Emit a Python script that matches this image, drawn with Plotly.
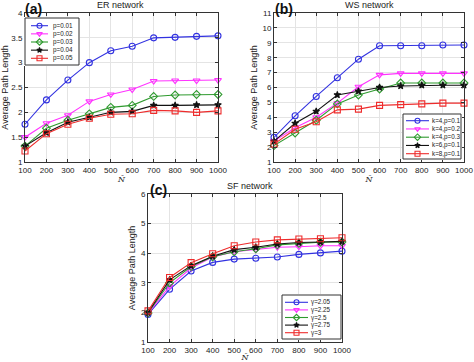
import plotly.graph_objects as go

N = [100, 200, 300, 400, 500, 600, 700, 800, 900, 1000]
N_ticks = ["100", "200", "300", "400", "500", "600", "700", "800", "900", "1000"]

# ER network
er_names = ["p=0.01", "p=0.02", "p=0.03", "p=0.04", "p=0.05"]
er_p001 = [1.76, 2.25, 2.65, 3.00, 3.24, 3.33, 3.50, 3.51, 3.53, 3.54]
er_p002 = [1.50, 1.78, 1.94, 2.22, 2.36, 2.46, 2.63, 2.64, 2.64, 2.65]
er_p003 = [1.32, 1.68, 1.84, 1.97, 2.10, 2.14, 2.32, 2.35, 2.36, 2.36]
er_p004 = [1.32, 1.59, 1.80, 1.90, 2.00, 2.02, 2.14, 2.14, 2.15, 2.15]
er_p005 = [1.22, 1.57, 1.76, 1.88, 1.96, 1.97, 2.04, 2.03, 2.00, 2.03]

# WS network
ws_names = ["k=4,p=0.1", "k=4,p=0.2", "k=4,p=0.3", "k=6,p=0.1", "k=8,p=0.1"]
ws_k4p01 = [2.65, 4.10, 5.40, 6.65, 7.90, 8.80, 8.80, 8.80, 8.85, 8.85]
ws_k4p02 = [2.40, 3.30, 4.00, 4.95, 6.05, 6.85, 6.95, 6.95, 6.95, 6.95]
ws_k4p03 = [2.10, 2.95, 3.80, 4.90, 5.50, 5.90, 6.30, 6.30, 6.30, 6.30]
ws_k6p01 = [2.40, 3.60, 4.40, 5.50, 5.75, 6.00, 6.10, 6.15, 6.15, 6.15]
ws_k8p01 = [2.20, 3.20, 3.70, 4.50, 4.55, 4.80, 4.85, 4.90, 4.95, 4.95]

# SF network
sf_names = ["γ=2.05", "γ=2.25", "γ=2.5", "γ=2.75", "γ=3"]
sf_g205 = [1.93, 2.78, 3.40, 3.69, 3.80, 3.83, 3.87, 3.96, 4.01, 4.07]
sf_g225 = [1.97, 2.88, 3.50, 3.87, 4.05, 4.12, 4.20, 4.22, 4.25, 4.25]
sf_g250 = [1.98, 3.00, 3.55, 3.88, 4.05, 4.15, 4.28, 4.33, 4.37, 4.38]
sf_g275 = [2.00, 3.10, 3.58, 3.90, 4.12, 4.20, 4.31, 4.36, 4.38, 4.40]
sf_g300 = [2.05, 3.18, 3.68, 3.98, 4.25, 4.38, 4.45, 4.48, 4.49, 4.52]

colors = ["#3232e0", "#ff33ff", "#2f9a2f", "#111111", "#ee2c2c"]
symbols = ["circle-open", "triangle-down-open", "diamond-open", "star", "square-open"]
msizes = [6, 6, 6, 5, 6]

W, H = 474, 362
def xd(a, b):
    return [a / W, b / W]
def yd(top, bot):
    return [1 - bot / H, 1 - top / H]

FONT = "Liberation Sans"
TXT = "#222"

fig = go.Figure()
panels = [
    ("x", "y", er_names, [er_p001, er_p002, er_p003, er_p004, er_p005]),
    ("x2", "y2", ws_names, [ws_k4p01, ws_k4p02, ws_k4p03, ws_k6p01, ws_k8p01]),
    ("x3", "y3", sf_names, [sf_g205, sf_g225, sf_g250, sf_g275, sf_g300]),
]
for xa, ya, names, series in panels:
    for i, (nm, vals) in enumerate(zip(names, series)):
        fig.add_trace(go.Scatter(
            x=N, y=vals, name=nm, mode="lines+markers", xaxis=xa, yaxis=ya, showlegend=False,
            line=dict(color=colors[i], width=1.1),
            marker=dict(symbol=symbols[i], size=msizes[i], color=colors[i],
                        line=dict(color=colors[i], width=1.1)),
            cliponaxis=False,
        ))

axis_common = dict(showline=True, linecolor="#333", linewidth=1, mirror="ticks",
                   ticks="inside", ticklen=3, tickcolor="#333", automargin=False,
                   showgrid=True, gridcolor="#e4e4e4", gridwidth=1, zeroline=False,
                   tickfont=dict(size=8, color=TXT, family=FONT))
xax = dict(axis_common, range=[100, 1000], tickvals=N, ticktext=N_ticks, ticklabeloverflow="allow")

yt_title = dict(text="Average Path Length", font=dict(size=9, color=TXT, family=FONT), standoff=3)
xt_title = dict(text="<i>Ñ</i>", font=dict(size=8, color=TXT, family="DejaVu Serif"), standoff=0)

layout = dict(
    width=W, height=H, margin=dict(l=0, r=0, t=0, b=0, autoexpand=False),
    paper_bgcolor="white", plot_bgcolor="white", showlegend=False,
    xaxis=dict(xax, domain=xd(25, 218), anchor="y", title=xt_title),
    yaxis=dict(axis_common, domain=yd(13, 162), anchor="x", range=[1, 4], dtick=0.5, title=yt_title),
    xaxis2=dict(xax, domain=xd(274, 464), anchor="y2", title=xt_title),
    yaxis2=dict(axis_common, domain=yd(13, 162), anchor="x2", range=[1, 11], dtick=1, title=yt_title),
    xaxis3=dict(xax, domain=xd(148, 342), anchor="y3", title=xt_title),
    yaxis3=dict(axis_common, domain=yd(194, 342), anchor="x3", range=[1, 6], dtick=1, title=yt_title),
)

# Compact MATLAB-style legends drawn in their own small axes (pixel coordinates)
legend_boxes = [
    # (left, right, top, bottom, first_row, step, line_x0, line_x1, text_x)
    (25, 79, 18, 65, 25.7, 8.15, 31, 48, 51.5),
    (403, 461, 114, 159, 120.7, 8.25, 406, 429, 430.5),
    (282, 341, 295, 339, 302.3, 7.6, 285, 308, 309.5),
]
all_names = [er_names, ws_names, sf_names]
for k, (L, R, T, B, r0, st, lx0, lx1, tx) in enumerate(legend_boxes):
    n = k + 4
    xa, ya = "x%d" % n, "y%d" % n
    layout["xaxis%d" % n] = dict(domain=xd(L - 1, R + 1), range=[L - 1, R + 1], visible=False,
                                 anchor=ya, fixedrange=True, automargin=False)
    layout["yaxis%d" % n] = dict(domain=yd(T - 1, B + 1), range=[B + 1, T - 1], visible=False,
                                 anchor=xa, fixedrange=True, automargin=False)
    fig.add_trace(go.Scatter(x=[L, R, R, L, L], y=[T, T, B, B, T], mode="lines", fill="toself",
                             fillcolor="white", line=dict(color="#333", width=1), xaxis=xa, yaxis=ya,
                             showlegend=False, hoverinfo="skip"))
    for i, nm in enumerate(all_names[k]):
        ry = r0 + i * st
        fig.add_trace(go.Scatter(x=[lx0, lx1], y=[ry, ry], mode="lines", line=dict(color=colors[i], width=1.1),
                                 xaxis=xa, yaxis=ya, showlegend=False, hoverinfo="skip"))
        fig.add_trace(go.Scatter(x=[(lx0 + lx1) / 2], y=[ry], mode="markers",
                                 marker=dict(symbol=symbols[i], size=msizes[i] - 1, color=colors[i],
                                             line=dict(color=colors[i], width=1.1)),
                                 xaxis=xa, yaxis=ya, showlegend=False, hoverinfo="skip"))
        fig.add_annotation(x=tx, y=ry, xref=xa, yref=ya, text=nm, showarrow=False,
                           xanchor="left", yanchor="middle", borderpad=0,
                           font=dict(size=6.3, color=TXT, family=FONT))

fig.update_layout(**layout)

ann_font = dict(size=9, color=TXT, family=FONT)
lab_font = dict(size=14, color="#111", family=FONT)
for cx, top, title, lab, lx in [(120, 13, "ER network", "(a)", 23), (369, 13, "WS network", "(b)", 273),
                                 (250, 194, "SF network", "(c)", 148)]:
    fig.add_annotation(x=cx / W, y=1 - (top - 1) / H, xref="paper", yref="paper", text=title,
                       showarrow=False, font=ann_font, xanchor="center", yanchor="bottom")
    fig.add_annotation(x=lx / W, y=1 - (top - 14) / H, xref="paper", yref="paper", text="<b>" + lab + "</b>",
                       showarrow=False, font=lab_font, xanchor="left", yanchor="top")

fig.write_html("out.html", config={"displayModeBar": False, "staticPlot": True},
               post_script="document.body.style.margin='0';document.body.style.overflow='hidden';")
